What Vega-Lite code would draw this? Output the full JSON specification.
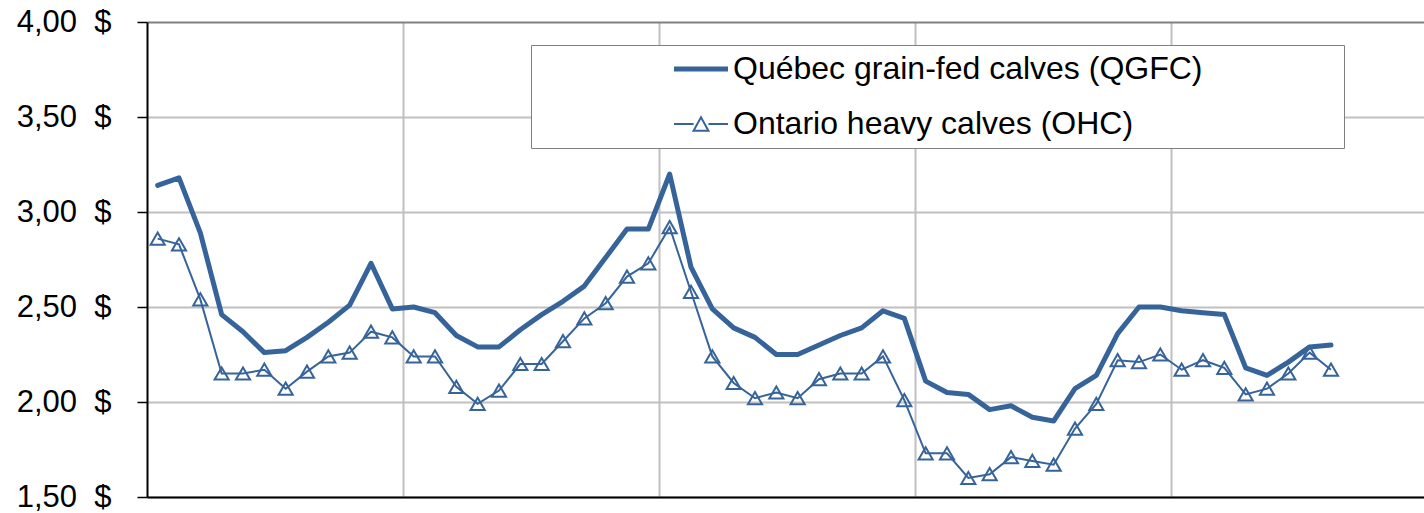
{
  "$schema": "https://vega.github.io/schema/vega-lite/v6.json",
  "width": 1277,
  "height": 475,
  "autosize": {"type": "none"},
  "padding": {"left": 147, "top": 22, "right": 0, "bottom": 16},
  "background": "white",
  "config": {"font": "Liberation Sans", "view": {"stroke": null}},
  "data": {"values": [
    {"m":0,"series":"Québec grain-fed calves (QGFC)","price":3.14},
    {"m":1,"series":"Québec grain-fed calves (QGFC)","price":3.18},
    {"m":2,"series":"Québec grain-fed calves (QGFC)","price":2.89},
    {"m":3,"series":"Québec grain-fed calves (QGFC)","price":2.46},
    {"m":4,"series":"Québec grain-fed calves (QGFC)","price":2.37},
    {"m":5,"series":"Québec grain-fed calves (QGFC)","price":2.26},
    {"m":6,"series":"Québec grain-fed calves (QGFC)","price":2.27},
    {"m":7,"series":"Québec grain-fed calves (QGFC)","price":2.34},
    {"m":8,"series":"Québec grain-fed calves (QGFC)","price":2.42},
    {"m":9,"series":"Québec grain-fed calves (QGFC)","price":2.51},
    {"m":10,"series":"Québec grain-fed calves (QGFC)","price":2.73},
    {"m":11,"series":"Québec grain-fed calves (QGFC)","price":2.49},
    {"m":12,"series":"Québec grain-fed calves (QGFC)","price":2.50},
    {"m":13,"series":"Québec grain-fed calves (QGFC)","price":2.47},
    {"m":14,"series":"Québec grain-fed calves (QGFC)","price":2.35},
    {"m":15,"series":"Québec grain-fed calves (QGFC)","price":2.29},
    {"m":16,"series":"Québec grain-fed calves (QGFC)","price":2.29},
    {"m":17,"series":"Québec grain-fed calves (QGFC)","price":2.38},
    {"m":18,"series":"Québec grain-fed calves (QGFC)","price":2.46},
    {"m":19,"series":"Québec grain-fed calves (QGFC)","price":2.53},
    {"m":20,"series":"Québec grain-fed calves (QGFC)","price":2.61},
    {"m":21,"series":"Québec grain-fed calves (QGFC)","price":2.76},
    {"m":22,"series":"Québec grain-fed calves (QGFC)","price":2.91},
    {"m":23,"series":"Québec grain-fed calves (QGFC)","price":2.91},
    {"m":24,"series":"Québec grain-fed calves (QGFC)","price":3.20},
    {"m":25,"series":"Québec grain-fed calves (QGFC)","price":2.71},
    {"m":26,"series":"Québec grain-fed calves (QGFC)","price":2.49},
    {"m":27,"series":"Québec grain-fed calves (QGFC)","price":2.39},
    {"m":28,"series":"Québec grain-fed calves (QGFC)","price":2.34},
    {"m":29,"series":"Québec grain-fed calves (QGFC)","price":2.25},
    {"m":30,"series":"Québec grain-fed calves (QGFC)","price":2.25},
    {"m":31,"series":"Québec grain-fed calves (QGFC)","price":2.30},
    {"m":32,"series":"Québec grain-fed calves (QGFC)","price":2.35},
    {"m":33,"series":"Québec grain-fed calves (QGFC)","price":2.39},
    {"m":34,"series":"Québec grain-fed calves (QGFC)","price":2.48},
    {"m":35,"series":"Québec grain-fed calves (QGFC)","price":2.44},
    {"m":36,"series":"Québec grain-fed calves (QGFC)","price":2.11},
    {"m":37,"series":"Québec grain-fed calves (QGFC)","price":2.05},
    {"m":38,"series":"Québec grain-fed calves (QGFC)","price":2.04},
    {"m":39,"series":"Québec grain-fed calves (QGFC)","price":1.96},
    {"m":40,"series":"Québec grain-fed calves (QGFC)","price":1.98},
    {"m":41,"series":"Québec grain-fed calves (QGFC)","price":1.92},
    {"m":42,"series":"Québec grain-fed calves (QGFC)","price":1.90},
    {"m":43,"series":"Québec grain-fed calves (QGFC)","price":2.07},
    {"m":44,"series":"Québec grain-fed calves (QGFC)","price":2.14},
    {"m":45,"series":"Québec grain-fed calves (QGFC)","price":2.36},
    {"m":46,"series":"Québec grain-fed calves (QGFC)","price":2.50},
    {"m":47,"series":"Québec grain-fed calves (QGFC)","price":2.50},
    {"m":48,"series":"Québec grain-fed calves (QGFC)","price":2.48},
    {"m":49,"series":"Québec grain-fed calves (QGFC)","price":2.47},
    {"m":50,"series":"Québec grain-fed calves (QGFC)","price":2.46},
    {"m":51,"series":"Québec grain-fed calves (QGFC)","price":2.18},
    {"m":52,"series":"Québec grain-fed calves (QGFC)","price":2.14},
    {"m":53,"series":"Québec grain-fed calves (QGFC)","price":2.21},
    {"m":54,"series":"Québec grain-fed calves (QGFC)","price":2.29},
    {"m":55,"series":"Québec grain-fed calves (QGFC)","price":2.30},
    {"m":0,"series":"Ontario heavy calves (OHC)","price":2.86},
    {"m":1,"series":"Ontario heavy calves (OHC)","price":2.83},
    {"m":2,"series":"Ontario heavy calves (OHC)","price":2.54},
    {"m":3,"series":"Ontario heavy calves (OHC)","price":2.15},
    {"m":4,"series":"Ontario heavy calves (OHC)","price":2.15},
    {"m":5,"series":"Ontario heavy calves (OHC)","price":2.17},
    {"m":6,"series":"Ontario heavy calves (OHC)","price":2.07},
    {"m":7,"series":"Ontario heavy calves (OHC)","price":2.16},
    {"m":8,"series":"Ontario heavy calves (OHC)","price":2.24},
    {"m":9,"series":"Ontario heavy calves (OHC)","price":2.26},
    {"m":10,"series":"Ontario heavy calves (OHC)","price":2.37},
    {"m":11,"series":"Ontario heavy calves (OHC)","price":2.34},
    {"m":12,"series":"Ontario heavy calves (OHC)","price":2.24},
    {"m":13,"series":"Ontario heavy calves (OHC)","price":2.24},
    {"m":14,"series":"Ontario heavy calves (OHC)","price":2.08},
    {"m":15,"series":"Ontario heavy calves (OHC)","price":1.99},
    {"m":16,"series":"Ontario heavy calves (OHC)","price":2.06},
    {"m":17,"series":"Ontario heavy calves (OHC)","price":2.20},
    {"m":18,"series":"Ontario heavy calves (OHC)","price":2.20},
    {"m":19,"series":"Ontario heavy calves (OHC)","price":2.32},
    {"m":20,"series":"Ontario heavy calves (OHC)","price":2.44},
    {"m":21,"series":"Ontario heavy calves (OHC)","price":2.52},
    {"m":22,"series":"Ontario heavy calves (OHC)","price":2.66},
    {"m":23,"series":"Ontario heavy calves (OHC)","price":2.73},
    {"m":24,"series":"Ontario heavy calves (OHC)","price":2.92},
    {"m":25,"series":"Ontario heavy calves (OHC)","price":2.58},
    {"m":26,"series":"Ontario heavy calves (OHC)","price":2.24},
    {"m":27,"series":"Ontario heavy calves (OHC)","price":2.10},
    {"m":28,"series":"Ontario heavy calves (OHC)","price":2.02},
    {"m":29,"series":"Ontario heavy calves (OHC)","price":2.05},
    {"m":30,"series":"Ontario heavy calves (OHC)","price":2.02},
    {"m":31,"series":"Ontario heavy calves (OHC)","price":2.12},
    {"m":32,"series":"Ontario heavy calves (OHC)","price":2.15},
    {"m":33,"series":"Ontario heavy calves (OHC)","price":2.15},
    {"m":34,"series":"Ontario heavy calves (OHC)","price":2.24},
    {"m":35,"series":"Ontario heavy calves (OHC)","price":2.01},
    {"m":36,"series":"Ontario heavy calves (OHC)","price":1.73},
    {"m":37,"series":"Ontario heavy calves (OHC)","price":1.73},
    {"m":38,"series":"Ontario heavy calves (OHC)","price":1.60},
    {"m":39,"series":"Ontario heavy calves (OHC)","price":1.62},
    {"m":40,"series":"Ontario heavy calves (OHC)","price":1.71},
    {"m":41,"series":"Ontario heavy calves (OHC)","price":1.69},
    {"m":42,"series":"Ontario heavy calves (OHC)","price":1.67},
    {"m":43,"series":"Ontario heavy calves (OHC)","price":1.86},
    {"m":44,"series":"Ontario heavy calves (OHC)","price":1.99},
    {"m":45,"series":"Ontario heavy calves (OHC)","price":2.22},
    {"m":46,"series":"Ontario heavy calves (OHC)","price":2.21},
    {"m":47,"series":"Ontario heavy calves (OHC)","price":2.25},
    {"m":48,"series":"Ontario heavy calves (OHC)","price":2.17},
    {"m":49,"series":"Ontario heavy calves (OHC)","price":2.22},
    {"m":50,"series":"Ontario heavy calves (OHC)","price":2.18},
    {"m":51,"series":"Ontario heavy calves (OHC)","price":2.04},
    {"m":52,"series":"Ontario heavy calves (OHC)","price":2.07},
    {"m":53,"series":"Ontario heavy calves (OHC)","price":2.15},
    {"m":54,"series":"Ontario heavy calves (OHC)","price":2.26},
    {"m":55,"series":"Ontario heavy calves (OHC)","price":2.17}
  ]},
  "encoding": {
    "x": {
      "field": "m", "type": "quantitative",
      "scale": {"domain": [-0.5, 59.36], "nice": false, "zero": false},
      "axis": {"title": null, "values": [11.5, 23.5, 35.5, 47.5], "labels": false, "ticks": false,
               "domainColor": "#000000", "domainWidth": 2, "gridColor": "#c0c0c0", "gridWidth": 2}
    },
    "y": {
      "field": "price", "type": "quantitative",
      "scale": {"domain": [1.5, 4], "nice": false, "zero": false},
      "axis": {"title": null, "values": [1.5, 2, 2.5, 3, 3.5, 4],
               "labelExpr": "replace(format(datum.value, '.2f'), '.', ',') + '\u00a0\u00a0$'",
               "labelFont": "Liberation Sans", "labelFontSize": 31, "labelColor": "#000000",
               "labelPadding": 26, "tickSize": 10, "tickColor": "#000000", "tickWidth": 1.5,
               "domainColor": "#000000", "domainWidth": 2,
               "gridColor": {"condition": {"test": "datum.value === 4", "value": "#808080"}, "value": "#c0c0c0"},
               "gridWidth": 2}
    },
    "color": {
      "field": "series", "type": "nominal",
      "scale": {"domain": ["Québec grain-fed calves (QGFC)", "Ontario heavy calves (OHC)"], "range": ["#36649a", "#36649a"]},
      "legend": {
        "title": null, "orient": "none", "legendX": 384, "legendY": 23, "direction": "vertical",
        "labelFont": "Liberation Sans", "labelFontSize": 32, "labelColor": "#000000", "labelLimit": 2000,
        "labelExpr": "datum.label + '\u00a0\u00a0\u00a0\u00a0\u00a0\u00a0\u00a0\u00a0\u00a0\u00a0\u00a0\u00a0\u00a0\u00a0\u00a0\u200b'",
        "symbolType": "stroke", "symbolSize": 729, "symbolOffset": 146, "labelOffset": 16,
        "padding": 8, "rowPadding": 23,
        "strokeColor": "#7f7f7f", "fillColor": "#ffffff",
        "encode": {
          "symbols": {
            "update": {
              "shape": {"signal": "test(/OHC/, '' + datum.value) ? 'M-2,0H-0.55M0.55,0H2M-0.55,0.5L0,-0.5L0.55,0.5Z' : 'M-2,0H2'"},
              "strokeWidth": {"signal": "test(/OHC/, '' + datum.value) ? 2 : 5"},
              "stroke": {"value": "#36649a"},
              "fill": {"value": "transparent"},
              "opacity": {"value": 1}
            }
          }
        }
      }
    }
  },
  "layer": [
    {
      "transform": [{"filter": "test(/QGFC/, datum.series)"}],
      "mark": {"type": "line", "strokeWidth": 5, "strokeJoin": "round", "strokeCap": "round"}
    },
    {
      "transform": [{"filter": "test(/OHC/, datum.series)"}],
      "mark": {"type": "line", "strokeWidth": 2}
    },
    {
      "transform": [{"filter": "test(/OHC/, datum.series)"}],
      "mark": {"type": "point", "shape": "triangle-up", "filled": false, "size": 200, "strokeWidth": 2, "opacity": 1}
    }
  ]
}
